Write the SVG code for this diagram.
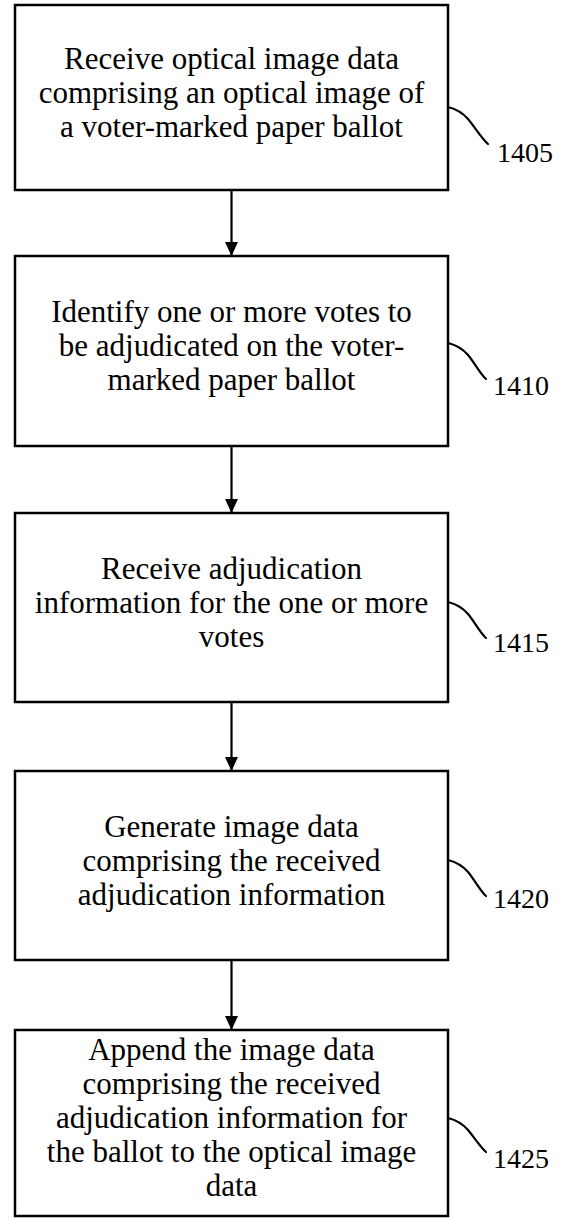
<svg xmlns="http://www.w3.org/2000/svg" width="561" height="1218" viewBox="0 0 561 1218">
<style>
.box{fill:#fff;stroke:#000;stroke-width:2.5}
text{font-family:'Liberation Serif','Times New Roman',serif;fill:#000}
.t{font-size:31px;text-anchor:middle}
.lbl{font-size:28px}
.ld{fill:none;stroke:#000;stroke-width:2.2;stroke-linecap:round}
.conn{stroke:#000;stroke-width:2.2;fill:none}
</style>
<defs>
<marker id="ah" markerUnits="userSpaceOnUse" viewBox="0 0 14 13" refX="14" refY="6.5" markerWidth="14" markerHeight="13" orient="auto">
<path d="M0,0 L14,6.5 L0,13 z" fill="#000"/>
</marker>
</defs>
<rect width="561" height="1218" fill="#fff"/>
<g id="connectors">
<line class="conn" x1="231.5" y1="190" x2="231.5" y2="256" marker-end="url(#ah)"/>
<line class="conn" x1="231.5" y1="446" x2="231.5" y2="513" marker-end="url(#ah)"/>
<line class="conn" x1="231.5" y1="702" x2="231.5" y2="771" marker-end="url(#ah)"/>
<line class="conn" x1="231.5" y1="960" x2="231.5" y2="1030" marker-end="url(#ah)"/>
</g>
<g id="n1405">
<rect class="box" x="15" y="5" width="433" height="185"/>
<text class="t" x="231.5" y="69">Receive optical image data</text>
<text class="t" x="231.5" y="103">comprising an optical image of</text>
<text class="t" x="231.5" y="137">a voter-marked paper ballot</text>
<path class="ld" d="M448,107 c8,2 14,5 20,12 s14,20 20,25"/>
<text class="lbl" x="497" y="162">1405</text>
</g>
<g id="n1410">
<rect class="box" x="15" y="256" width="433" height="190"/>
<text class="t" x="231.5" y="322">Identify one or more votes to</text>
<text class="t" x="231.5" y="356">be adjudicated on the voter-</text>
<text class="t" x="231.5" y="390">marked paper ballot</text>
<path class="ld" d="M448,343 c8,2 14,5 20,12 s13,20 18,24"/>
<text class="lbl" x="493" y="395">1410</text>
</g>
<g id="n1415">
<rect class="box" x="15" y="513" width="433" height="189"/>
<text class="t" x="231.5" y="578.5">Receive adjudication</text>
<text class="t" x="231.5" y="612.5">information for the one or more</text>
<text class="t" x="231.5" y="646.5">votes</text>
<path class="ld" d="M448,602 c8,2 14,5 20,12 s13,20 18,24"/>
<text class="lbl" x="493" y="652">1415</text>
</g>
<g id="n1420">
<rect class="box" x="15" y="771" width="433" height="189"/>
<text class="t" x="231.5" y="837">Generate image data</text>
<text class="t" x="231.5" y="871">comprising the received</text>
<text class="t" x="231.5" y="905">adjudication information</text>
<path class="ld" d="M448,860 c8,2 14,5 20,12 s13,20 18,24"/>
<text class="lbl" x="493" y="908">1420</text>
</g>
<g id="n1425">
<rect class="box" x="15" y="1030" width="433" height="186"/>
<text class="t" x="231.5" y="1060">Append the image data</text>
<text class="t" x="231.5" y="1094">comprising the received</text>
<text class="t" x="231.5" y="1128">adjudication information for</text>
<text class="t" x="231.5" y="1162">the ballot to the optical image</text>
<text class="t" x="231.5" y="1196">data</text>
<path class="ld" d="M448,1118 c8,2 14,5 20,12 s13,18 18,22"/>
<text class="lbl" x="493" y="1168">1425</text>
</g>
</svg>
